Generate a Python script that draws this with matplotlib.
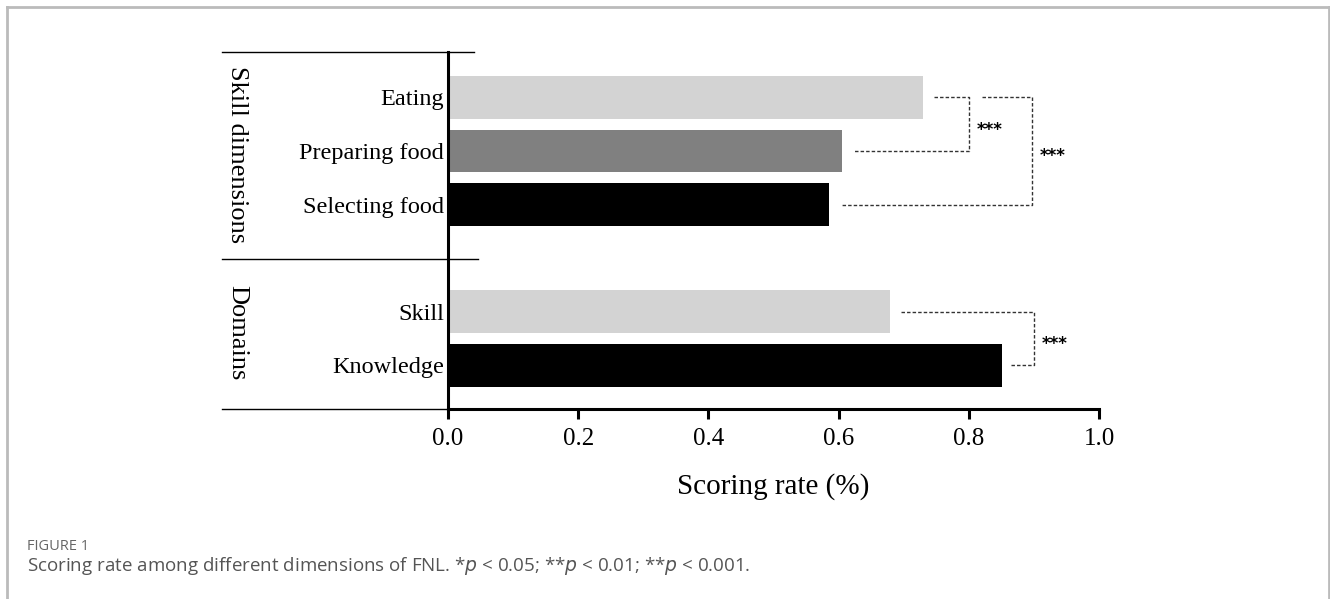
import matplotlib.pyplot as plt
from matplotlib.lines import Line2D

categories = ["Eating", "Preparing food", "Selecting food", "Skill", "Knowledge"]
values = [0.73, 0.605, 0.585, 0.679, 0.851]
positions = [5, 4, 3, 1, 0]
colors = ["#d3d3d3", "#808080", "#000000", "#d3d3d3", "#000000"]
groups = ["Skill dimensions", "Domains"]
xticks = [0.0, 0.2, 0.4, 0.6, 0.8, 1.0]
sig_labels = ["***", "***", "***"]

W, H = 1330, 599
fig = plt.figure(figsize=(W / 100, H / 100), dpi=100)

x0, x1 = 448, 1099
ytop, ybot = 52, 409
ax = fig.add_axes([x0 / W, 1 - ybot / H, (x1 - x0) / W, (ybot - ytop) / H])

serif = ["Liberation Serif", "DejaVu Serif"]

ax.barh(positions, values, height=0.8, color=colors, edgecolor="none", zorder=2)
ax.set_xlim(0, 1.0)
ax.set_ylim(-0.82, 5.85)
ax.set_yticks(positions)
ax.set_yticklabels(categories, fontfamily=serif, fontsize=17.5)
ax.set_xticks(xticks)
ax.set_xticklabels([f"{t:.1f}" for t in xticks], fontfamily=serif, fontsize=18)
ax.tick_params(axis="y", length=0, pad=3)
ax.tick_params(axis="x", length=7, width=2.2, pad=7, direction="out")
for s in ["top", "right"]:
    ax.spines[s].set_visible(False)
ax.spines["left"].set_linewidth(2.2)
ax.spines["bottom"].set_linewidth(2.2)
ax.set_xlabel("Scoring rate (%)", fontfamily=serif, fontsize=21)
ax.xaxis.set_label_coords(0.5, -(473 - ybot) / (ybot - ytop))

def fline(xa, xb, y, lw=1.0):
    fig.add_artist(Line2D([xa / W, xb / W], [1 - y / H, 1 - y / H],
                          color="black", lw=lw, transform=fig.transFigure))

fline(222, 474, 52)
fline(222, 478, 259)
fline(222, 448, 409)

fig.text(237 / W, 1 - 155 / H, groups[0], rotation=-90, ha="center", va="center",
         fontfamily=serif, fontsize=19)
fig.text(237 / W, 1 - 333 / H, groups[1], rotation=-90, ha="center", va="center",
         fontfamily=serif, fontsize=19)

dash = dict(color="#333333", lw=1.0, linestyle=(0, (2.5, 1.5)), zorder=3, clip_on=False)
off = 0.017
star = dict(ha="left", va="center", fontsize=12, fontweight="bold")
xb1 = 0.80
ax.plot([values[0] + off, xb1, xb1, values[1] + off],
        [positions[0], positions[0], positions[1], positions[1]], **dash)
ax.text(xb1 + 0.012, (positions[0] + positions[1]) / 2 - 0.1, sig_labels[0], **star)
xb2 = 0.897
ax.plot([0.82, xb2, xb2, values[2] + off],
        [positions[0], positions[0], positions[2], positions[2]], **dash)
ax.text(xb2 + 0.012, positions[1] - 0.1, sig_labels[1], **star)
xb3 = 0.90
ax.plot([values[3] + off, xb3, xb3, values[4] + off - 0.005],
        [positions[3], positions[3], positions[4], positions[4]], **dash)
ax.text(xb3 + 0.012, 0.5 - 0.1, sig_labels[2], **star)

fc = "#bbbbbb"
fig.add_artist(Line2D([6.5 / W, 1329 / W], [1 - 6.5 / H, 1 - 6.5 / H], color=fc, lw=2,
                      transform=fig.transFigure))
fig.add_artist(Line2D([6.5 / W, 6.5 / W], [0, 1 - 6.5 / H], color=fc, lw=2,
                      transform=fig.transFigure))
fig.add_artist(Line2D([1328.5 / W, 1328.5 / W], [0, 1 - 6.5 / H], color=fc, lw=2,
                      transform=fig.transFigure))

sans = ["Open Sans", "DejaVu Sans"]
fig.text(27 / W, 1 - 547 / H, "FIGURE 1", fontfamily=sans, fontsize=10.5,
         color="#666666", va="center", ha="left")
fig.text(27 / W, 1 - 566 / H,
         r"Scoring rate among different dimensions of FNL. *$\it{p}$ < 0.05; **$\it{p}$ < 0.01; **$\it{p}$ < 0.001.",
         fontfamily=sans, fontsize=13.5, color="#555555", va="center", ha="left")

fig.savefig("out.png", dpi=100)
